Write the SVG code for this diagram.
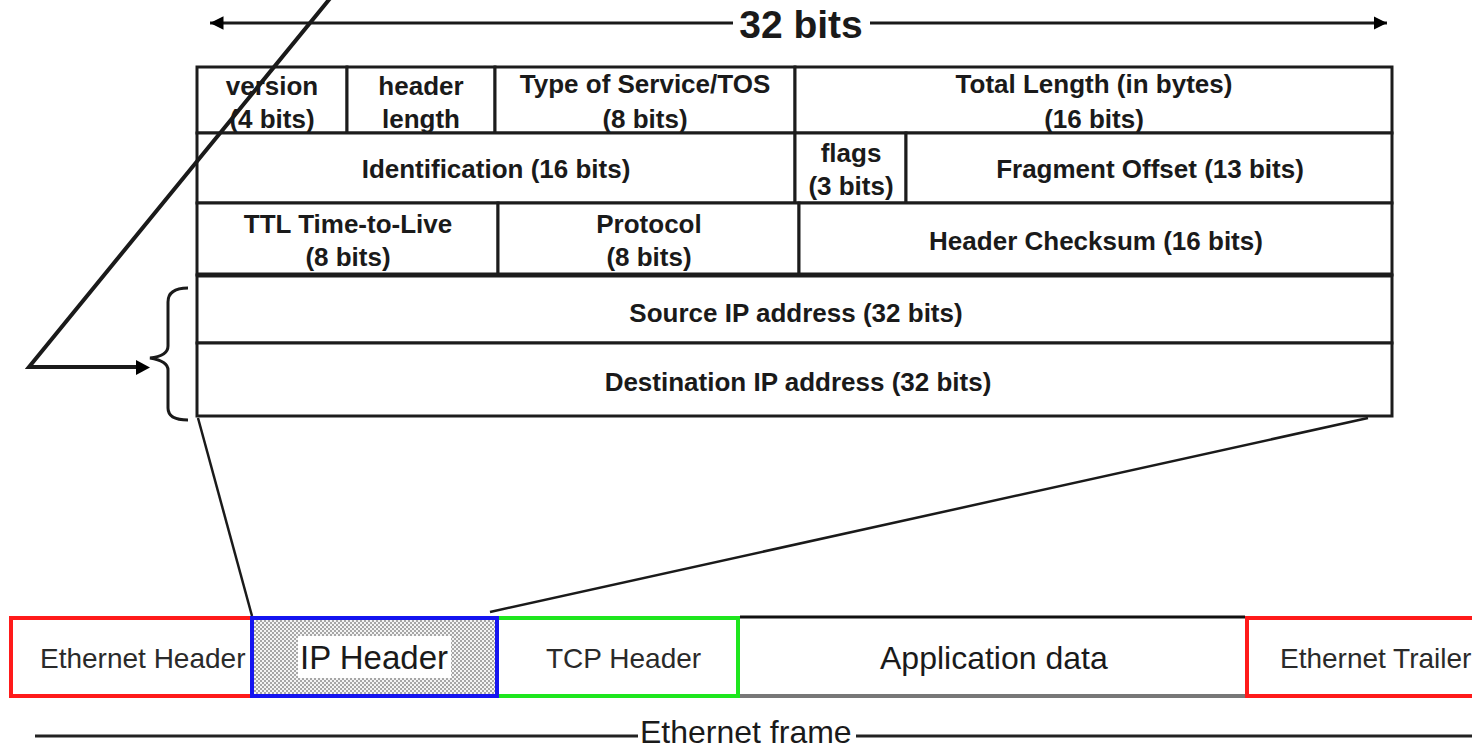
<svg xmlns="http://www.w3.org/2000/svg" width="1472" height="748" viewBox="0 0 1472 748">
  <defs>
    <style>
      .cell { fill: #fff; stroke: #1c1c1c; stroke-width: 3; }
      .f { font-family: "Liberation Sans", Arial, sans-serif; fill: #1a1a1a; }
      .tb { font-size: 26px; font-weight: bold; text-anchor: middle; }
      .fr { font-size: 28px; fill: #2a2a2a; }
      .conn { stroke: #1a1a1a; fill: none; }
    </style>
    <marker id="tri" viewBox="0 0 10 10" refX="10" refY="5" markerWidth="4.5" markerHeight="4.5" orient="auto-start-reverse">
      <path d="M0,0 L10,5 L0,10 z" fill="#000"/>
    </marker>
    <pattern id="dots" width="4" height="4" patternUnits="userSpaceOnUse">
      <rect width="4" height="4" fill="#f4f4f4"/>
      <rect width="2" height="2" fill="#a6a6a6"/>
      <rect x="2" y="2" width="2" height="2" fill="#a6a6a6"/>
    </pattern>
  </defs>

  <rect width="1472" height="748" fill="#fff"/>

  <!-- width scale above the header -->
  <g id="width-scale">
    <line class="conn" x1="733" y1="23" x2="210" y2="23" stroke-width="3" marker-end="url(#tri)"/>
    <line class="conn" x1="870" y1="23" x2="1387" y2="23" stroke-width="3" marker-end="url(#tri)"/>
    <text class="f" x="801" y="38" font-size="39" font-weight="bold" text-anchor="middle">32 bits</text>
  </g>

  <!-- IPv4 header layout -->
  <g id="ip-header-table">
    <g id="row1">
      <rect class="cell" x="197" y="67" width="150" height="66"/>
      <rect class="cell" x="347" y="67" width="148" height="66"/>
      <rect class="cell" x="495" y="67" width="300" height="66"/>
      <rect class="cell" x="795" y="67" width="597" height="66"/>
      <text class="f tb" x="272" y="95">version</text>
      <text class="f tb" x="272" y="128">(4 bits)</text>
      <text class="f tb" x="421" y="95">header</text>
      <text class="f tb" x="421" y="128">length</text>
      <text class="f tb" x="645" y="93">Type of Service/TOS</text>
      <text class="f tb" x="645" y="128">(8 bits)</text>
      <text class="f tb" x="1094" y="93">Total Length (in bytes)</text>
      <text class="f tb" x="1094" y="128">(16 bits)</text>
    </g>
    <g id="row2">
      <rect class="cell" x="197" y="133" width="598" height="70"/>
      <rect class="cell" x="795" y="133" width="111" height="70"/>
      <rect class="cell" x="906" y="133" width="486" height="70"/>
      <text class="f tb" x="496" y="178">Identification (16 bits)</text>
      <text class="f tb" x="851" y="162">flags</text>
      <text class="f tb" x="851" y="195">(3 bits)</text>
      <text class="f tb" x="1150" y="178">Fragment Offset (13 bits)</text>
    </g>
    <g id="row3">
      <rect class="cell" x="197" y="203" width="301" height="72"/>
      <rect class="cell" x="498" y="203" width="301" height="72"/>
      <rect class="cell" x="799" y="203" width="593" height="72"/>
      <text class="f tb" x="348" y="233">TTL Time-to-Live</text>
      <text class="f tb" x="348" y="266">(8 bits)</text>
      <text class="f tb" x="649" y="233">Protocol</text>
      <text class="f tb" x="649" y="266">(8 bits)</text>
      <text class="f tb" x="1096" y="250">Header Checksum (16 bits)</text>
    </g>
    <g id="row4">
      <rect class="cell" x="197" y="275" width="1195" height="68"/>
      <text class="f tb" x="796" y="322">Source IP address (32 bits)</text>
    </g>
    <g id="row5">
      <rect class="cell" x="197" y="343" width="1195" height="73"/>
      <text class="f tb" x="798" y="391">Destination IP address (32 bits)</text>
    </g>
    <line x1="197" y1="275" x2="1392" y2="275" stroke="#1c1c1c" stroke-width="5"/>
  </g>

  <!-- Ethernet frame layout -->
  <g id="ethernet-header">
    <rect x="11" y="618" width="241" height="78" fill="#fff" stroke="#ff1a1a" stroke-width="4"/>
    <text class="f fr" x="40" y="668">Ethernet Header</text>
  </g>
  <g id="tcp-header">
    <rect x="497" y="618" width="241" height="78" fill="#fff" stroke="#1ee61e" stroke-width="4"/>
    <text class="f fr" x="546" y="668">TCP Header</text>
  </g>
  <g id="application-data">
    <line x1="740" y1="617" x2="1245" y2="617" stroke="#111" stroke-width="3"/>
    <line x1="740" y1="696" x2="1245" y2="696" stroke="#777" stroke-width="4"/>
    <text class="f" x="880" y="669" font-size="32" fill="#2a2a2a">Application data</text>
  </g>
  <g id="ethernet-trailer">
    <rect x="1247" y="618" width="240" height="78" fill="#fff" stroke="#ff1a1a" stroke-width="4"/>
    <text class="f fr" x="1280" y="668">Ethernet Trailer</text>
  </g>
  <g id="ip-header">
    <rect x="252" y="618" width="245" height="78" fill="url(#dots)" stroke="#1414f0" stroke-width="4"/>
    <rect x="298" y="636" width="153" height="42" fill="#fff"/>
    <text class="f" x="300" y="669" font-size="33" fill="#111">IP Header</text>
  </g>

  <g id="ethernet-frame-span">
    <line x1="35" y1="736" x2="638" y2="736" stroke="#222" stroke-width="3"/>
    <line x1="856" y1="736" x2="1472" y2="736" stroke="#222" stroke-width="3"/>
    <text class="f" x="640" y="743" font-size="32" fill="#2a2a2a">Ethernet frame</text>
  </g>

  <!-- connectors -->
  <g id="connectors">
    <line class="conn" x1="198" y1="418" x2="252" y2="616" stroke-width="2.5"/>
    <line class="conn" x1="1368" y1="418" x2="490" y2="612" stroke-width="2.5"/>
    <polyline class="conn" points="332,-4 29,367 138,367" stroke-width="4" stroke-linejoin="miter"/>
    <path d="M136,360 L150,367.5 L136,375 z" fill="#000"/>
    <path class="conn" stroke-width="3" d="M188,288 Q168,288 168,302 L168,346 Q168,356 150,358 Q168,361 168,370 L168,408 Q168,420 188,420"/>
  </g>
</svg>
